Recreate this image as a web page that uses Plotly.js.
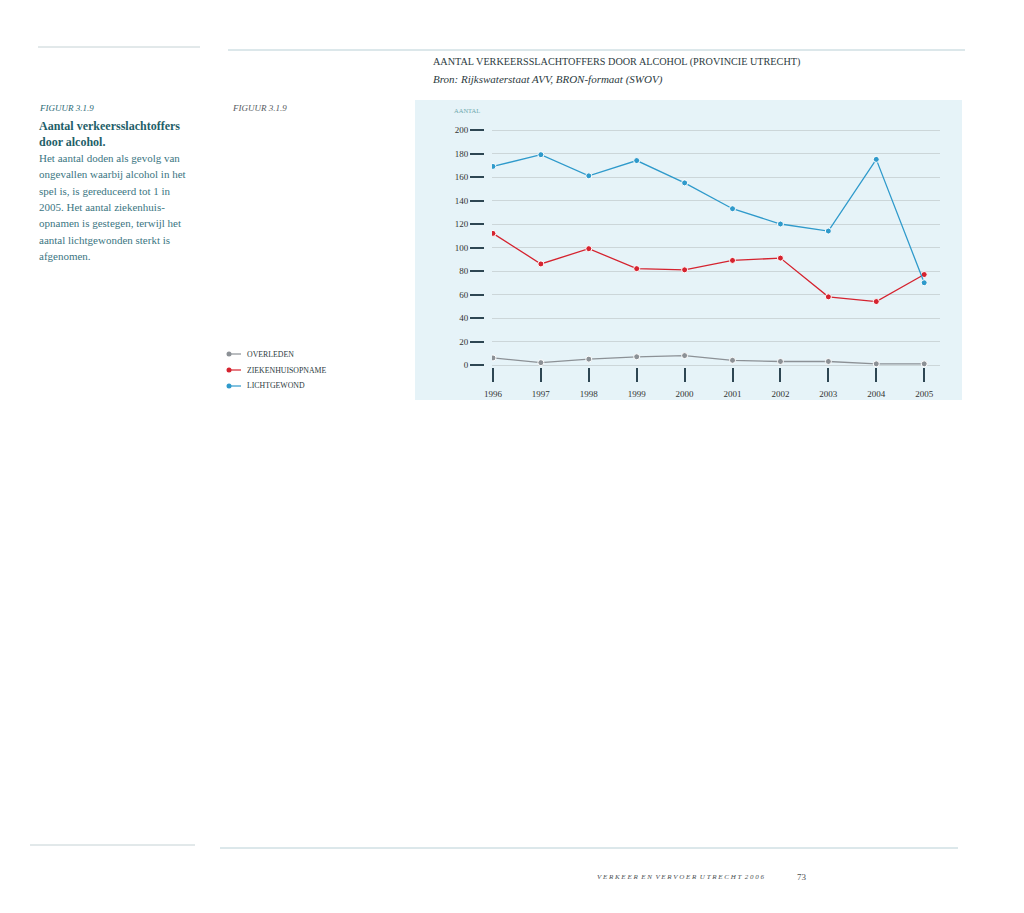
<!DOCTYPE html>
<html>
<head>
<meta charset="utf-8">
<script src="https://cdn.plot.ly/plotly-3.0.1.min.js"></script>
<style>
  html, body { margin: 0; padding: 0; background: #fff; }
  #chart { width: 1024px; height: 913px; }
</style>
</head>
<body>
<div id="chart"></div>
<script>
// Years on the x axis
const years = [1996, 1997, 1998, 1999, 2000, 2001, 2002, 2003, 2004, 2005];
const yTicks = [0, 20, 40, 60, 80, 100, 120, 140, 160, 180, 200];

// Series
const overleden = [6, 2, 5, 7, 8, 4, 3, 3, 1, 1];
const ziekenhuisopname = [112, 86, 99, 82, 81, 89, 91, 58, 54, 77];
const lichtgewond = [169, 179, 161, 174, 155, 133, 120, 114, 175, 70];

const seriesNames = ["OVERLEDEN", "ZIEKENHUISOPNAME", "LICHTGEWOND"];
const seriesColors = ["#8c9196", "#d5232f", "#2f9acb"];

const W = 1024, H = 913;
// pixel -> paper helpers
const px = (x) => x / W;
const py = (y) => 1 - y / H;

const SERIF = "Liberation Serif, DejaVu Serif, serif";
const TEAL = "#2c6b76";

const makeTrace = (name, values, color) => ({
  x: years,
  y: values,
  name: name,
  type: "scatter",
  mode: "lines+markers",
  line: { color: color, width: 1.3 },
  marker: { color: color, size: 6, line: { color: "#ffffff", width: 1 } },
  hoverinfo: "skip",
  showlegend: false,
});

const traces = [
  makeTrace(seriesNames[0], overleden, seriesColors[0]),
  makeTrace(seriesNames[1], ziekenhuisopname, seriesColors[1]),
  makeTrace(seriesNames[2], lichtgewond, seriesColors[2]),
];

const text = (x, y, t, font, extra) =>
  Object.assign(
    {
      xref: "paper",
      yref: "paper",
      x: px(x),
      y: py(y),
      text: t,
      showarrow: false,
      xanchor: "left",
      yanchor: "middle",
      font: Object.assign({ family: SERIF, size: 11, color: TEAL }, font),
    },
    extra || {}
  );

const hline = (x0, x1, y, color, width) => ({
  type: "line",
  xref: "paper",
  yref: "paper",
  x0: px(x0),
  x1: px(x1),
  y0: py(y),
  y1: py(y),
  line: { color: color, width: width || 1 },
});

// Left caption, one annotation per printed line
const bodyLines = [
  "Het aantal doden als gevolg van",
  "ongevallen waarbij alcohol in het",
  "spel is, is gereduceerd tot 1 in",
  "2005. Het aantal ziekenhuis-",
  "opnamen is gestegen, terwijl het",
  "aantal lichtgewonden sterkt is",
  "afgenomen.",
];

const annotations = [
  text(431, 62, "AANTAL VERKEERSSLACHTOFFERS DOOR ALCOHOL (PROVINCIE UTRECHT)",
    { size: 10.2, color: "#2b3a40" }),
  text(431, 79, "Bron: Rijkswaterstaat AVV, BRON-formaat (SWOV)",
    { size: 11, style: "italic", color: "#2b3a40" }),
  text(37, 108, "FIGUUR 3.1.9", { size: 9, style: "italic", color: TEAL }),
  text(230, 108, "FIGUUR 3.1.9", { size: 9, style: "italic", color: "#555a5e" }),
  text(37, 126, "Aantal verkeersslachtoffers", { size: 12, weight: "bold", color: "#1f5f69" }),
  text(37, 142, "door alcohol.", { size: 12, weight: "bold", color: "#1f5f69" }),
  text(452, 111, "AANTAL", { size: 6.5, color: "#6ea9ad" }),
  text(595, 877, "V E R K E E R  E N  V E R V O E R  U T R E C H T  2 0 0 6",
    { size: 7, style: "italic", color: "#4a4f52" }),
  text(795, 877, "73", { size: 9, color: "#4a4f52" }),
];
bodyLines.forEach((line, i) => {
  annotations.push(text(37, 158 + i * 16.3, line, { size: 11, color: "#3b7682" }));
});

const shapes = [
  // chart background panel
  {
    type: "rect",
    xref: "paper",
    yref: "paper",
    x0: px(415),
    x1: px(962),
    y0: py(400),
    y1: py(100),
    fillcolor: "#e6f3f8",
    line: { width: 0 },
    layer: "below",
  },
  hline(38, 200, 47, "#c5d2d5"),
  hline(228, 965, 50, "#b9d0d6"),
  hline(30, 195, 845, "#c5d2d5"),
  hline(220, 958, 848, "#b9d0d6"),
];

// Legend: dot, short stroke, small caps label
seriesNames.forEach((name, i) => {
  const y = 354 + i * 16;
  shapes.push(hline(229, 241, y, seriesColors[i], 1.2));
  shapes.push({
    type: "circle",
    xref: "paper",
    yref: "paper",
    x0: px(226.5),
    x1: px(231.5),
    y0: py(y + 2.5),
    y1: py(y - 2.5),
    fillcolor: seriesColors[i],
    line: { width: 0 },
  });
  annotations.push(text(245, y, name, { size: 7.8, color: "#2b3a40" }));
});

const layout = {
  width: W,
  height: H,
  margin: { l: 0, r: 0, t: 0, b: 0 },
  paper_bgcolor: "#ffffff",
  plot_bgcolor: "rgba(0,0,0,0)",
  showlegend: false,
  xaxis: {
    domain: [px(492), px(940)],
    range: [1995.98, 2005.33],
    tickvals: years,
    ticktext: years.map(String),
    ticks: "outside",
    ticklen: 14,
    tickwidth: 2,
    tickcolor: "#2e4653",
    ticklabelstandoff: 4,
    showgrid: false,
    zeroline: false,
    showline: false,
    tickfont: { family: SERIF, size: 9, color: "#333" },
  },
  yaxis: {
    // range padded by 2 units so the 0 and 200 gridlines are drawn
    domain: [py(367.35), py(127.65)],
    range: [-2, 202],
    anchor: "free",
    position: px(484),
    tickvals: yTicks,
    ticks: "outside",
    ticklen: 14,
    tickwidth: 2,
    tickcolor: "#2e4653",
    showgrid: true,
    gridcolor: "#ccd6d9",
    gridwidth: 1,
    zeroline: false,
    showline: false,
    tickfont: { family: SERIF, size: 9, color: "#333" },
  },
  shapes: shapes,
  annotations: annotations,
  hovermode: false,
};

Plotly.newPlot("chart", traces, layout, { staticPlot: true, displayModeBar: false });
</script>
</body>
</html>
